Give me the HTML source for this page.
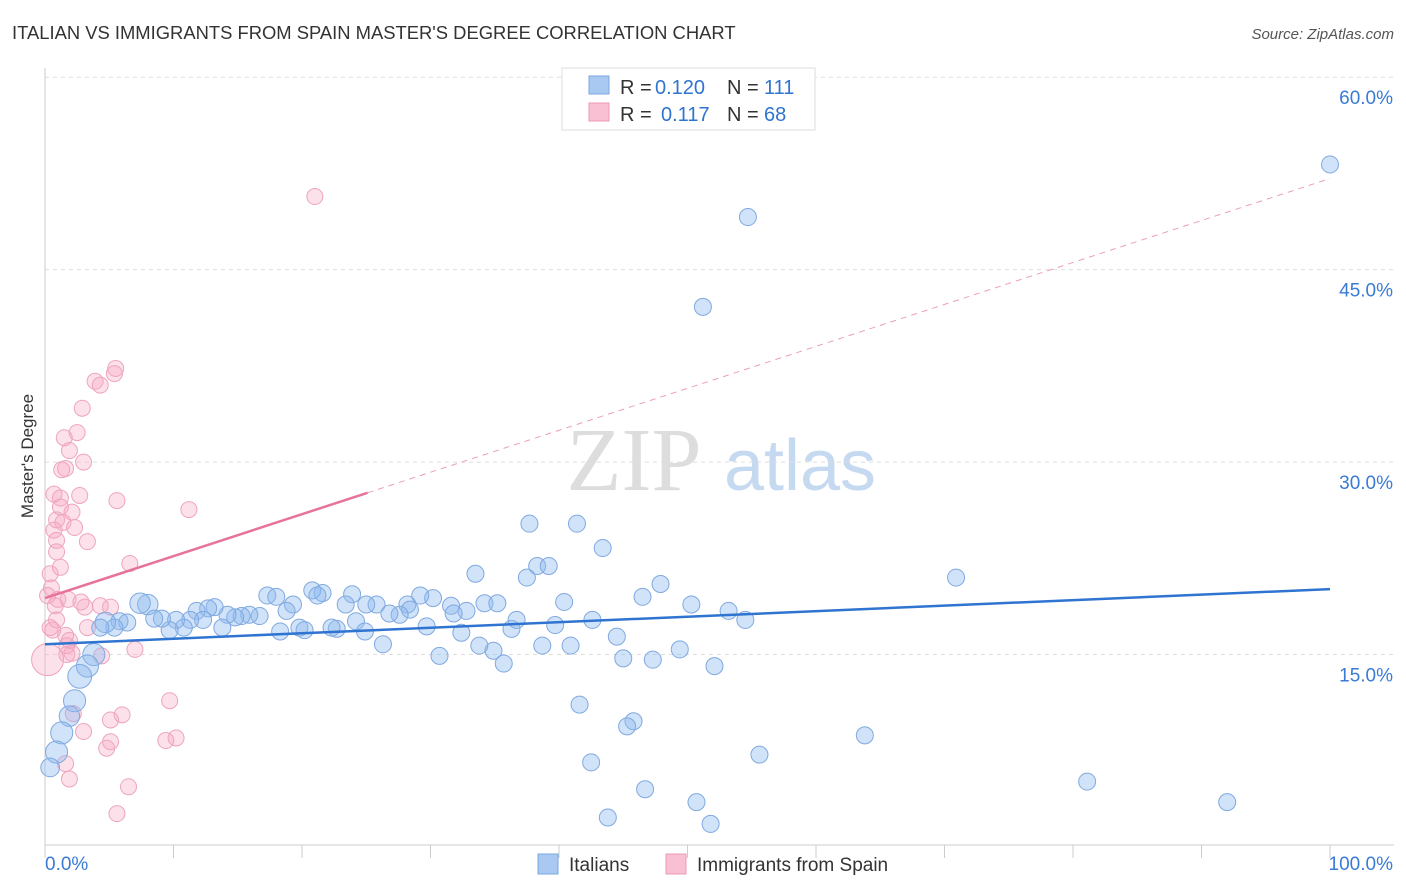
<!DOCTYPE html>
<html><head><meta charset="utf-8"><style>
body{margin:0;background:#fff;font-family:"Liberation Sans",sans-serif;}
svg{display:block}
</style></head><body>
<svg id="chart" width="1406" height="892" xmlns="http://www.w3.org/2000/svg">
<text x="12" y="39" font-size="18.4" fill="#333">ITALIAN VS IMMIGRANTS FROM SPAIN MASTER'S DEGREE CORRELATION CHART</text>
<text x="1394" y="39" font-size="15" fill="#555" font-style="italic" text-anchor="end">Source: ZipAtlas.com</text>
<text x="33" y="456" font-size="17" fill="#333" text-anchor="middle" transform="rotate(-90 33 456)">Master's Degree</text>
<g>
<text x="634" y="490" font-size="90" font-family="Liberation Serif,serif" fill="#ddd" text-anchor="middle">ZIP</text>
<text x="800" y="490" font-size="72" fill="#c5d9f0" text-anchor="middle">atlas</text>
</g>
<g id="grid"></g><g id="axes"></g><g id="pts"></g><g id="trends"></g>
<g font-size="20">
<rect x="562" y="68" width="253" height="62" fill="#fff" stroke="#ddd"/>
<rect x="589" y="76" width="20" height="18" fill="#a9c8f2" stroke="#7aa8e0"/>
<rect x="589" y="103" width="20" height="18" fill="#f8c0d2" stroke="#eb9ab5"/>
<text x="620" y="94" fill="#333">R =</text><text x="655" y="94" fill="#2f74d0">0.120</text>
<text x="727" y="94" fill="#333">N =</text><text x="764" y="94" fill="#2f74d0">111</text>
<text x="620" y="121" fill="#333">R =</text><text x="661" y="121" fill="#2f74d0">0.117</text>
<text x="727" y="121" fill="#333">N =</text><text x="764" y="121" fill="#2f74d0">68</text>
</g>
<g>
<rect x="538" y="854" width="20" height="20" fill="#a9c8f2" stroke="#7aa8e0"/>
<text x="569" y="871" font-size="19" fill="#333">Italians</text>
<rect x="666" y="854" width="20" height="20" fill="#f8c0d2" stroke="#eb9ab5"/>
<text x="697" y="871" font-size="19" fill="#333">Immigrants from Spain</text>
</g>
</svg>
<script>
const yTicks=[15,30,45,60];
const xTickLabels=["0.0%","100.0%"];
const blueX=[100,54.7,51.2,37.7,41.4,43.4,70.9,33.5,38.3,39.2,37.5,47.9,46.5,40.4,50.3,53.2,54.5,42.6,44.5,49.4,52.1,47.3,45,40.9,38.7,35.7,34.9,33.8,30.7,32.4,36.3,36.7,39.7,34.2,35.2,32.8,31.6,31.8,30.2,29.2,28.2,28.4,27.6,26.8,25.8,25.0,23.9,23.4,24.2,24.9,26.3,29.7,22.7,22.3,21.6,20.8,21.2,19.3,18.8,17.3,18.0,18.3,19.8,20.2,16.7,15.9,15.3,14.8,14.2,13.2,12.7,11.8,13.8,12.3,11.3,10.8,10.2,9.7,9.1,8.0,7.4,8.5,6.4,5.8,5.4,4.7,4.3,3.8,3.3,2.7,2.3,1.9,1.3,0.9,0.4,41.6,45.8,45.3,42.5,55.6,63.8,46.7,50.7,51.8,43.8,81.1,92.0];
const blueY=[53.2,49.1,42.1,25.2,25.2,23.3,21.0,21.3,21.9,21.9,21.0,20.5,19.5,19.1,18.9,18.4,17.7,17.7,16.4,15.4,14.1,14.6,14.7,15.7,15.7,14.3,15.3,15.7,14.9,16.7,17.0,17.7,17.3,19.0,19.0,18.4,18.8,18.2,19.4,19.6,18.9,18.5,18.1,18.2,18.9,18.9,19.7,18.9,17.6,16.8,15.8,17.2,17.0,17.1,19.8,20.0,19.6,18.9,18.4,19.6,19.5,16.8,17.1,16.9,18.0,18.1,18.0,17.9,18.1,18.7,18.6,18.4,17.1,17.7,17.7,17.1,17.7,16.9,17.8,18.9,19.0,17.8,17.5,17.6,17.1,17.5,17.1,15.0,14.1,13.3,11.4,10.2,8.9,7.4,6.2,11.1,9.8,9.4,6.6,7.2,8.7,4.5,3.5,1.8,2.3,5.1,3.5];
const blueW=[1,1,1,1,1,1,1,1,1,1,1,1,1,1,1,1,1,1,1,1,1,1,1,1,1,1,1,1,1,1,1,1,1,1,1,1,1,1,1,1,1,1,1,1,1,1,1,1,1,1,1,1,1,1,1,1,1,1,1,1,1,1,1,1,1,1,1,1,1,1,1,1,1,1,1,1,1,1,1,1.2,1.2,1,1,1,1,1.2,1,1.3,1.3,1.4,1.3,1.2,1.3,1.3,1.1,1,1,1,1,1,1,1,1,1,1,1,1];
const pinkX=[21.0,5.5,5.4,3.9,4.3,2.9,2.5,1.5,1.9,3.0,1.6,1.3,0.7,1.2,2.7,5.6,11.2,1.2,2.1,0.9,1.4,2.3,0.7,3.3,0.9,0.9,6.6,1.2,0.4,0.5,0.2,1.0,1.8,2.8,3.1,4.3,5.1,0.8,0.9,0.4,0.6,1.6,1.9,3.3,1.7,2.1,1.7,4.4,0.2,7.0,9.7,2.2,6.0,5.1,3.0,10.2,9.4,5.1,4.8,1.6,1.9,6.5,5.6];
const pinkY=[50.7,37.3,36.9,36.3,36.0,34.2,32.3,31.9,30.9,30.0,29.5,29.4,27.5,27.2,27.4,27.0,26.3,26.5,26.1,25.5,25.3,24.9,24.7,23.8,23.9,23.0,22.1,21.8,21.3,20.2,19.6,19.3,19.3,19.1,18.7,18.8,18.7,18.8,17.7,17.1,16.9,16.5,16.1,17.1,15.7,15.1,15.0,14.9,14.6,15.4,11.4,10.4,10.3,9.9,9.0,8.5,8.3,8.2,7.7,6.5,5.3,4.7,2.6];
const pinkW=[1,1,1,1,1,1,1,1,1,1,1,1,1,1,1,1,1,1,1,1,1,1,1,1,1,1,1,1,1,1,1,1,1,1,1,1,1,1,1,1,1,1,1,1,1,1,1,1,2,1,1,1,1,1,1,1,1,1,1,1,1,1,1];
const blueTrend=[15.8,20.1];
const pinkTrend=[19.4,52.1];
const pinkSolidEnd=25.1;
const NS="http://www.w3.org/2000/svg";
const X0=45,X1=1330,Y0=847,YS=12.83;
const sx=v=>X0+(X1-X0)*v/100;
const sy=v=>Y0-v*YS;
function mk(tag,attrs,parent){const e=document.createElementNS(NS,tag);for(const k in attrs)e.setAttribute(k,attrs[k]);parent.appendChild(e);return e;}
const grid=document.getElementById('grid'),axes=document.getElementById('axes'),pts=document.getElementById('pts'),tr=document.getElementById('trends');
yTicks.forEach(t=>{
 const l=mk('line',{x1:X0,x2:1394,y1:sy(t),y2:sy(t),stroke:'#ddd','stroke-dasharray':'4,4'},grid);
 
 
 const tx=mk('text',{x:1393,y:sy(t)+27,'font-size':19,fill:'#3a7bd5','text-anchor':'end'},grid);
 tx.textContent=t.toFixed(1)+'%';
 
 
});
const ax=mk('line',{x1:X0,x2:1394,y1:845,y2:845,stroke:'#ccc'},axes);


const ay=mk('line',{x1:X0,x2:X0,y1:68,y2:845,stroke:'#ccc'},axes);


for(let i=0;i<=10;i++){const t=mk('line',{x1:sx(i*10),x2:sx(i*10),y1:845,y2:858,stroke:'#ccc'},axes);
 
 }
const l0=mk('text',{x:45,y:870,'font-size':19,fill:'#3a7bd5'},axes);l0.textContent=xTickLabels[0];


const l1=mk('text',{x:1393,y:870,'font-size':19,fill:'#3a7bd5','text-anchor':'end'},axes);l1.textContent=xTickLabels[1];


pinkX.forEach((v,i)=>{const c=mk('circle',{cx:sx(v),cy:sy(pinkY[i]),r:8*pinkW[i],fill:'rgba(245,165,195,0.35)',stroke:'#eea5bd','stroke-width':1},pts);
 
 });
blueX.forEach((v,i)=>{const c=mk('circle',{cx:sx(v),cy:sy(blueY[i]),r:8.5*blueW[i],fill:'rgba(140,185,240,0.4)',stroke:'#80a9e0','stroke-width':1},pts);
 
 });
const bt=mk('line',{x1:sx(0),y1:sy(blueTrend[0]),x2:sx(100),y2:sy(blueTrend[1]),stroke:'#2f74d0','stroke-width':2.5},tr);


const pyAt=x=>pinkTrend[0]+(pinkTrend[1]-pinkTrend[0])*x/100;
const pd=mk('line',{x1:sx(pinkSolidEnd),y1:sy(pyAt(pinkSolidEnd)),x2:sx(100),y2:sy(pinkTrend[1]),stroke:'#eaa0b8','stroke-width':1,'stroke-dasharray':'6,5'},tr);


const ps=mk('line',{x1:sx(0),y1:sy(pinkTrend[0]),x2:sx(pinkSolidEnd),y2:sy(pyAt(pinkSolidEnd)),stroke:'#e8739a','stroke-width':2.5},tr);


</script>
</body></html>
